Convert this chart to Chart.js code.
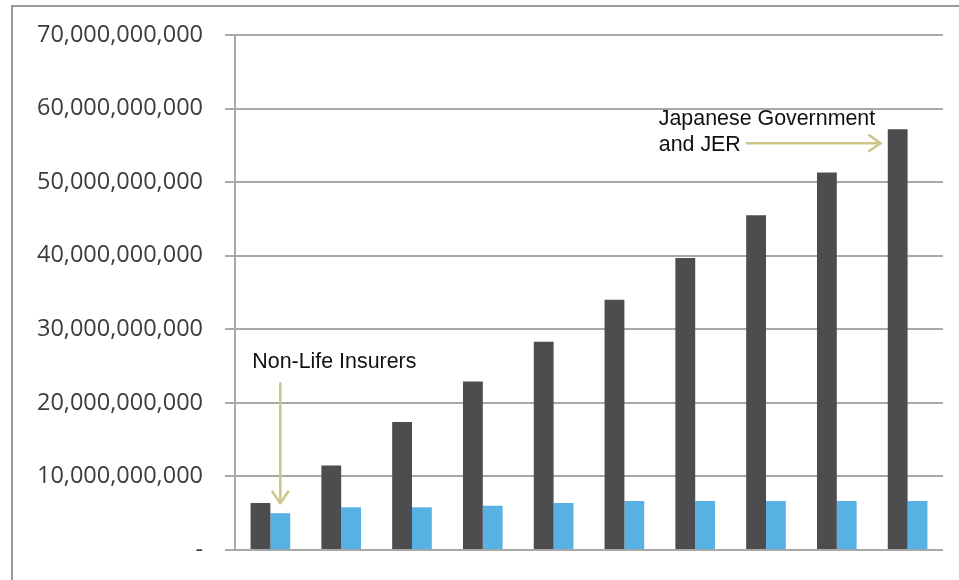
<!DOCTYPE html>
<html>
<head>
<meta charset="utf-8">
<script src="https://cdn.jsdelivr.net/npm/chart.js@4/dist/chart.umd.min.js"></script>
<style>
  html, body { margin: 0; padding: 0; background: #fff; }
  #wrap {
    position: relative;
    width: 959px;
    height: 580px;
  }
  #frame {
    position: absolute;
    left: 11px;
    top: 5px;
    right: -2px;
    bottom: -2px;
    border-left: 2px solid #9a9a9a;
    border-top: 2px solid #9a9a9a;
    pointer-events: none;
  }
  canvas { position: absolute; left: 0; top: 0; }
</style>
</head>
<body>
<div id="wrap">
  <canvas id="c" width="959" height="580"></canvas>
  <div id="frame"></div>
</div>
<script>
// categories (x labels are blank in the source picture)
const categories = ['', '', '', '', '', '', '', '', '', ''];
// Japanese Government and JER
const govtJer = [6.4e9, 11.5e9, 17.4e9, 22.9e9, 28.3e9, 34.0e9, 39.7e9, 45.5e9, 51.3e9, 57.2e9];
// Non-Life Insurers
const nonLife = [5.0e9, 5.8e9, 5.8e9, 6.0e9, 6.4e9, 6.65e9, 6.65e9, 6.65e9, 6.65e9, 6.65e9];
const yTicks = [0, 10e9, 20e9, 30e9, 40e9, 50e9, 60e9, 70e9];

const arrowColor = '#cdc487';
const labelFont = '21.4px "Liberation Sans", Arial, sans-serif';

function arrow(ctx, x1, y1, x2, y2) {
  const a = Math.atan2(y2 - y1, x2 - x1);
  const h = 14;
  ctx.beginPath();
  ctx.moveTo(x1, y1);
  ctx.lineTo(x2, y2);
  ctx.moveTo(x2 - h * Math.cos(a - 0.6), y2 - h * Math.sin(a - 0.6));
  ctx.lineTo(x2, y2);
  ctx.lineTo(x2 - h * Math.cos(a + 0.6), y2 - h * Math.sin(a + 0.6));
  ctx.stroke();
}

// annotations anchored to the bars they point at
const notes = {
  id: 'notes',
  afterDatasetsDraw(chart) {
    const ctx = chart.ctx;
    const govBar = chart.getDatasetMeta(0).data[9];
    const nlBar = chart.getDatasetMeta(1).data[0];
    ctx.save();
    ctx.strokeStyle = arrowColor;
    ctx.lineWidth = 2.5;
    ctx.lineCap = 'round';
    ctx.lineJoin = 'round';

    // Japanese Government and JER
    const tipX = govBar.x - govBar.width / 2 - 7;
    const tipY = govBar.y + 14;
    arrow(ctx, tipX - 134, tipY, tipX, tipY);
    ctx.fillStyle = '#111';
    ctx.font = labelFont;
    ctx.textBaseline = 'middle';
    ctx.textAlign = 'left';
    ctx.fillText('Japanese Government', tipX - 222, tipY - 24);
    ctx.fillText('and JER', tipX - 222, tipY + 2);

    // Non-Life Insurers
    const nx = nlBar.x;
    const ny = nlBar.y - 10;
    arrow(ctx, nx, ny - 120, nx, ny);
    ctx.fillText('Non-Life Insurers', nx - 28, ny - 141);
    ctx.restore();
  }
};

new Chart(document.getElementById('c'), {
  type: 'bar',
  data: {
    labels: categories,
    datasets: [
      { label: 'Japanese Government and JER', data: govtJer, backgroundColor: '#4d4d50' },
      { label: 'Non-Life Insurers', data: nonLife, backgroundColor: '#57b1e3' }
    ]
  },
  options: {
    responsive: false,
    animation: false,
    layout: { padding: { top: 35, right: 16, left: 0, bottom: 0 } },
    plugins: { legend: { display: false }, tooltip: { enabled: false } },
    datasets: { bar: { categoryPercentage: 0.56, barPercentage: 1.0 } },
    scales: {
      x: {
        grid: { display: false },
        border: { display: false },
        ticks: { display: false },
        afterFit: s => { s.height = 30; }
      },
      y: {
        min: 0,
        max: 70e9,
        afterBuildTicks: s => { s.ticks = yTicks.map(v => ({ value: v })); },
        afterFit: s => { s.width = 235; s.paddingTop = 0; s.paddingBottom = 0; },
        grid: { color: '#a8a8a8', lineWidth: 2, tickLength: 10 },
        border: { display: true, color: '#a8a8a8', width: 2 },
        ticks: {
          padding: 22,
          color: '#3c3c3c',
          font: { family: '"Open Sans", "Noto Sans", sans-serif', size: 23.5 },
          callback: v => v === 0 ? '-' : v.toLocaleString('en-US')
        }
      }
    }
  },
  plugins: [notes]
});
</script>
</body>
</html>
